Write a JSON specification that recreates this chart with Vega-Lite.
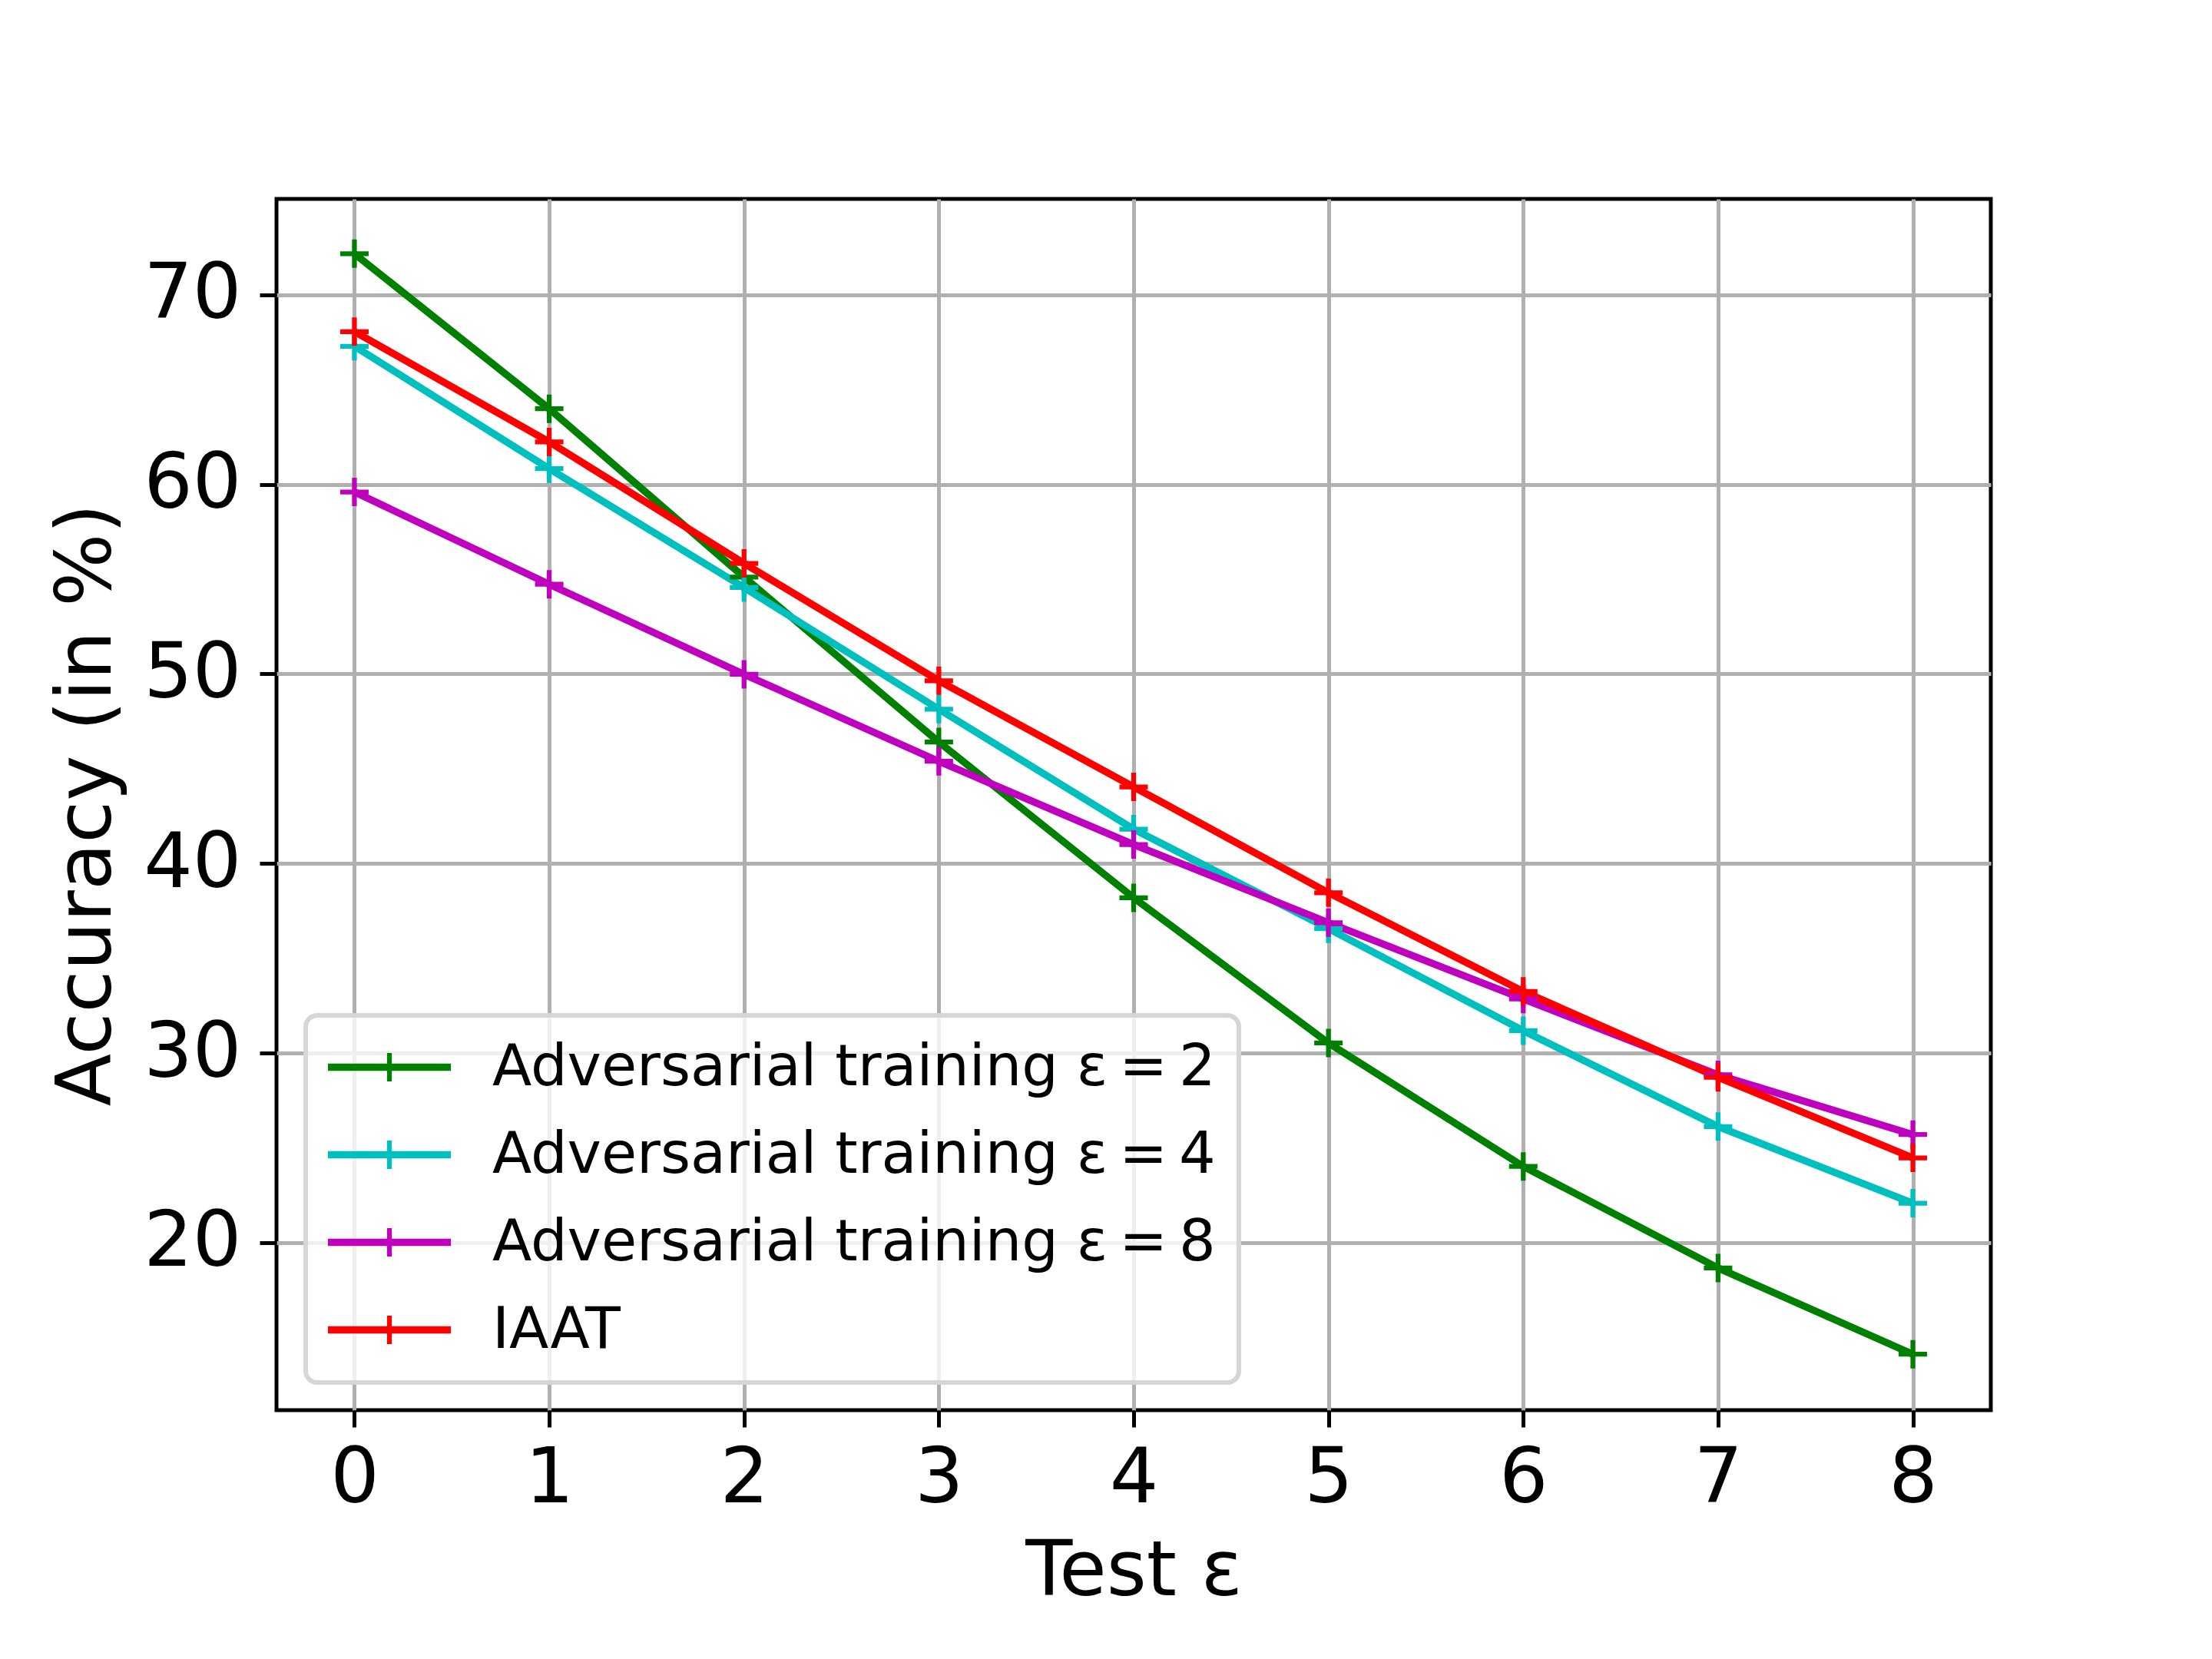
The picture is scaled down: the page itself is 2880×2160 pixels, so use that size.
{
  "$schema": "https://vega.github.io/schema/vega-lite/v6.json",
  "autosize": {"type": "none"},
  "width": 2232,
  "height": 1577,
  "padding": {"left": 360, "top": 259, "right": 288, "bottom": 324},
  "background": "white",
  "config": {
    "view": {"stroke": "black", "strokeWidth": 5},
    "font": "DejaVu Sans",
    "axis": {
      "labelFont": "DejaVu Sans",
      "labelFontSize": 100,
      "labelColor": "black",
      "labelFlush": false,
      "titleFont": "DejaVu Sans",
      "titleFontSize": 100,
      "titleFontWeight": "normal",
      "titleColor": "black",
      "tickColor": "black",
      "tickWidth": 5,
      "tickSize": 22,
      "gridColor": "#b0b0b0",
      "gridWidth": 5,
      "domain": false
    },
    "legend": {
      "labelFont": "DejaVu Sans",
      "labelFontSize": 75,
      "labelColor": "black",
      "labelLimit": 2000
    }
  },
  "data": {
    "values": [
      {"eps": 0, "acc": 72.17, "model": "Adversarial training ε\u2009=\u20092"},
      {"eps": 1, "acc": 63.99, "model": "Adversarial training ε\u2009=\u20092"},
      {"eps": 2, "acc": 55.11, "model": "Adversarial training ε\u2009=\u20092"},
      {"eps": 3, "acc": 46.41, "model": "Adversarial training ε\u2009=\u20092"},
      {"eps": 4, "acc": 38.19, "model": "Adversarial training ε\u2009=\u20092"},
      {"eps": 5, "acc": 30.53, "model": "Adversarial training ε\u2009=\u20092"},
      {"eps": 6, "acc": 24.02, "model": "Adversarial training ε\u2009=\u20092"},
      {"eps": 7, "acc": 18.66, "model": "Adversarial training ε\u2009=\u20092"},
      {"eps": 8, "acc": 14.11, "model": "Adversarial training ε\u2009=\u20092"},
      {"eps": 0, "acc": 67.29, "model": "Adversarial training ε\u2009=\u20094"},
      {"eps": 1, "acc": 60.83, "model": "Adversarial training ε\u2009=\u20094"},
      {"eps": 2, "acc": 54.56, "model": "Adversarial training ε\u2009=\u20094"},
      {"eps": 3, "acc": 48.14, "model": "Adversarial training ε\u2009=\u20094"},
      {"eps": 4, "acc": 41.81, "model": "Adversarial training ε\u2009=\u20094"},
      {"eps": 5, "acc": 36.56, "model": "Adversarial training ε\u2009=\u20094"},
      {"eps": 6, "acc": 31.18, "model": "Adversarial training ε\u2009=\u20094"},
      {"eps": 7, "acc": 26.12, "model": "Adversarial training ε\u2009=\u20094"},
      {"eps": 8, "acc": 22.08, "model": "Adversarial training ε\u2009=\u20094"},
      {"eps": 0, "acc": 59.6, "model": "Adversarial training ε\u2009=\u20098"},
      {"eps": 1, "acc": 54.73, "model": "Adversarial training ε\u2009=\u20098"},
      {"eps": 2, "acc": 49.98, "model": "Adversarial training ε\u2009=\u20098"},
      {"eps": 3, "acc": 45.39, "model": "Adversarial training ε\u2009=\u20098"},
      {"eps": 4, "acc": 41.0, "model": "Adversarial training ε\u2009=\u20098"},
      {"eps": 5, "acc": 36.88, "model": "Adversarial training ε\u2009=\u20098"},
      {"eps": 6, "acc": 32.85, "model": "Adversarial training ε\u2009=\u20098"},
      {"eps": 7, "acc": 28.85, "model": "Adversarial training ε\u2009=\u20098"},
      {"eps": 8, "acc": 25.7, "model": "Adversarial training ε\u2009=\u20098"},
      {"eps": 0, "acc": 68.06, "model": "IAAT"},
      {"eps": 1, "acc": 62.24, "model": "IAAT"},
      {"eps": 2, "acc": 55.83, "model": "IAAT"},
      {"eps": 3, "acc": 49.64, "model": "IAAT"},
      {"eps": 4, "acc": 44.04, "model": "IAAT"},
      {"eps": 5, "acc": 38.46, "model": "IAAT"},
      {"eps": 6, "acc": 33.25, "model": "IAAT"},
      {"eps": 7, "acc": 28.72, "model": "IAAT"},
      {"eps": 8, "acc": 24.47, "model": "IAAT"}
    ]
  },
  "encoding": {
    "x": {
      "field": "eps",
      "type": "quantitative",
      "title": "Test ε",
      "scale": {"domain": [-0.4, 8.4], "nice": false, "zero": false},
      "axis": {"values": [0, 1, 2, 3, 4, 5, 6, 7, 8], "format": "d", "labelPadding": 18, "titlePadding": 22}
    },
    "y": {
      "field": "acc",
      "type": "quantitative",
      "title": "Accuracy (in %)",
      "scale": {"domain": [11.16, 75.06], "nice": false, "zero": false},
      "axis": {"values": [20, 30, 40, 50, 60, 70], "labelPadding": 24, "titlePadding": 22}
    },
    "color": {
      "field": "model",
      "type": "nominal",
      "scale": {
        "domain": ["Adversarial training ε\u2009=\u20092", "Adversarial training ε\u2009=\u20094", "Adversarial training ε\u2009=\u20098", "IAAT"],
        "range": ["#008000", "#00bfbf", "#bf00bf", "#ff0000"]
      },
      "legend": {
        "title": null,
        "orient": "none",
        "legendX": 38,
        "legendY": 1063,
        "padding": 30,
        "rowPadding": 38,
        "fillColor": "rgba(255,255,255,0.8)",
        "strokeColor": "#d6d6d6",
        "cornerRadius": 15,
        "symbolType": "M-2.08,-0.085L6.57,-0.085M-2.08,0.085L6.57,0.085M2.245,-1L2.245,1",
        "symbolSize": 1369,
        "symbolStrokeWidth": 6.25,
        "symbolFillColor": "transparent",
        "labelOffset": 138,
        "encode": {
          "legend": {"update": {"strokeWidth": {"value": 6}}}
        }
      }
    }
  },
  "layer": [
    {
      "mark": {"type": "line", "strokeWidth": 9.4, "strokeJoin": "round"}
    },
    {
      "mark": {
        "type": "point",
        "shape": "M-1,0L1,0M0,-1L0,1",
        "size": 1369,
        "strokeWidth": 6.25,
        "filled": false,
        "opacity": 1
      }
    }
  ]
}
